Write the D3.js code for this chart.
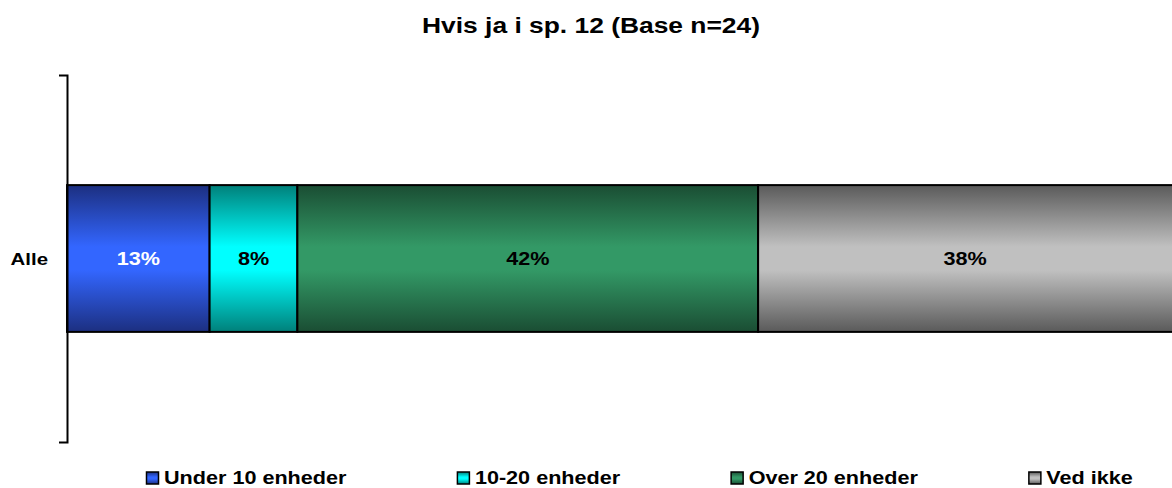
<!DOCTYPE html>
<html>
<head>
<meta charset="utf-8">
<script src="https://cdn.jsdelivr.net/npm/d3@7"></script>
<style>
  body { margin: 0; background: #fff; }
  text { font-family: "Liberation Sans", Arial, sans-serif; font-weight: bold; }
</style>
</head>
<body>
<div id="chart"></div>
<script>
// data
var categories = ["Alle"];
var seriesNames = ["Under 10 enheder", "10-20 enheder", "Over 20 enheder", "Ved ikke"];
var seriesValues = [13, 8, 42, 38]; // percent, Alle
var labelColors = ["#fff", "#000", "#000", "#000"];
var baseColors = ["#3366ff", "#00ffff", "#339966", "#c0c0c0"];
var edgeColors = ["#1c2f80", "#00807a", "#1a4d33", "#5a5a5a"];

var width = 1172, height = 488;
var sx = 1.2; // the text in the original is stretched sideways
var svg = d3.select("#chart").append("svg")
    .attr("width", width)
    .attr("height", height);

// put a stretched text at x,y
function putText(sel, x, y){
    return sel.attr("x", 0).attr("y", 0)
        .attr("transform", "translate(" + x + "," + y + ") scale(" + sx + ",1)");
}

// vertical gradients for the bars
var defs = svg.append("defs");
baseColors.forEach(function(c, i){
    var g = defs.append("linearGradient")
        .attr("id", "grad" + i)
        .attr("x1", 0).attr("y1", 0).attr("x2", 0).attr("y2", 1);
    g.append("stop").attr("offset", "0%").attr("stop-color", edgeColors[i]);
    g.append("stop").attr("offset", "42%").attr("stop-color", c);
    g.append("stop").attr("offset", "58%").attr("stop-color", c);
    g.append("stop").attr("offset", "100%").attr("stop-color", edgeColors[i]);
});

// title
putText(svg.append("text"), 591, 33)
    .attr("text-anchor", "middle")
    .style("font-size", "22px")
    .text("Hvis ja i sp. 12 (Base n=24)");

var x = d3.scaleLinear().domain([0, 100]).range([67, 1164]);
var y = d3.scaleBand().domain(categories).range([75, 442])
    .paddingInner(0).paddingOuter(0.75);

// stack
var stackData = [];
var acc = 0;
seriesValues.forEach(function(v, i){
    stackData.push({ i: i, x0: acc, x1: acc + v, v: v });
    acc += v;
});

var bar = svg.append("g");
bar.selectAll("rect")
    .data(stackData)
    .enter().append("rect")
    .attr("x", function(d){ return x(d.x0); })
    .attr("width", function(d){ return x(d.x1) - x(d.x0); })
    .attr("y", y("Alle"))
    .attr("height", y.bandwidth())
    .attr("fill", function(d){ return "url(#grad" + d.i + ")"; })
    .attr("stroke", "#000")
    .attr("stroke-width", 2);

bar.selectAll("text")
    .data(stackData)
    .enter().append("text")
    .each(function(d){
        var cx = (x(d.x0) + Math.min(x(d.x1), width)) / 2;
        putText(d3.select(this), cx, y("Alle") + y.bandwidth() / 2 + 6);
    })
    .attr("text-anchor", "middle")
    .style("font-size", "18px")
    .attr("fill", function(d){ return labelColors[d.i]; })
    .text(function(d){ return d.v + "%"; });

// category axis
var axis = svg.append("g")
    .attr("transform", "translate(67,0)")
    .call(d3.axisLeft(y).tickSizeInner(0).tickSizeOuter(8).tickPadding(19));
axis.select(".domain").attr("stroke", "#000").attr("stroke-width", 2);
axis.selectAll(".tick text")
    .style("font-size", "17px")
    .style("font-family", "\"Liberation Sans\", Arial, sans-serif")
    .style("font-weight", "bold")
    .attr("fill", "#000")
    .attr("dy", null)
    .each(function(){
        putText(d3.select(this), -19, 6);
    });

// legend
var legend = svg.append("g");
var lx = 146;
seriesNames.forEach(function(name, i){
    var item = legend.append("g").attr("transform", "translate(" + lx + ",0)");
    item.append("rect")
        .attr("x", 0.5).attr("y", 472)
        .attr("width", 12).attr("height", 12)
        .attr("fill", "url(#grad" + i + ")")
        .attr("stroke", "#000")
        .attr("stroke-width", 1.5);
    var t = putText(item.append("text"), 18, 484)
        .style("font-size", "18px")
        .text(name);
    lx += 18 + t.node().getComputedTextLength() * sx + 110.5;
});
</script>
</body>
</html>
